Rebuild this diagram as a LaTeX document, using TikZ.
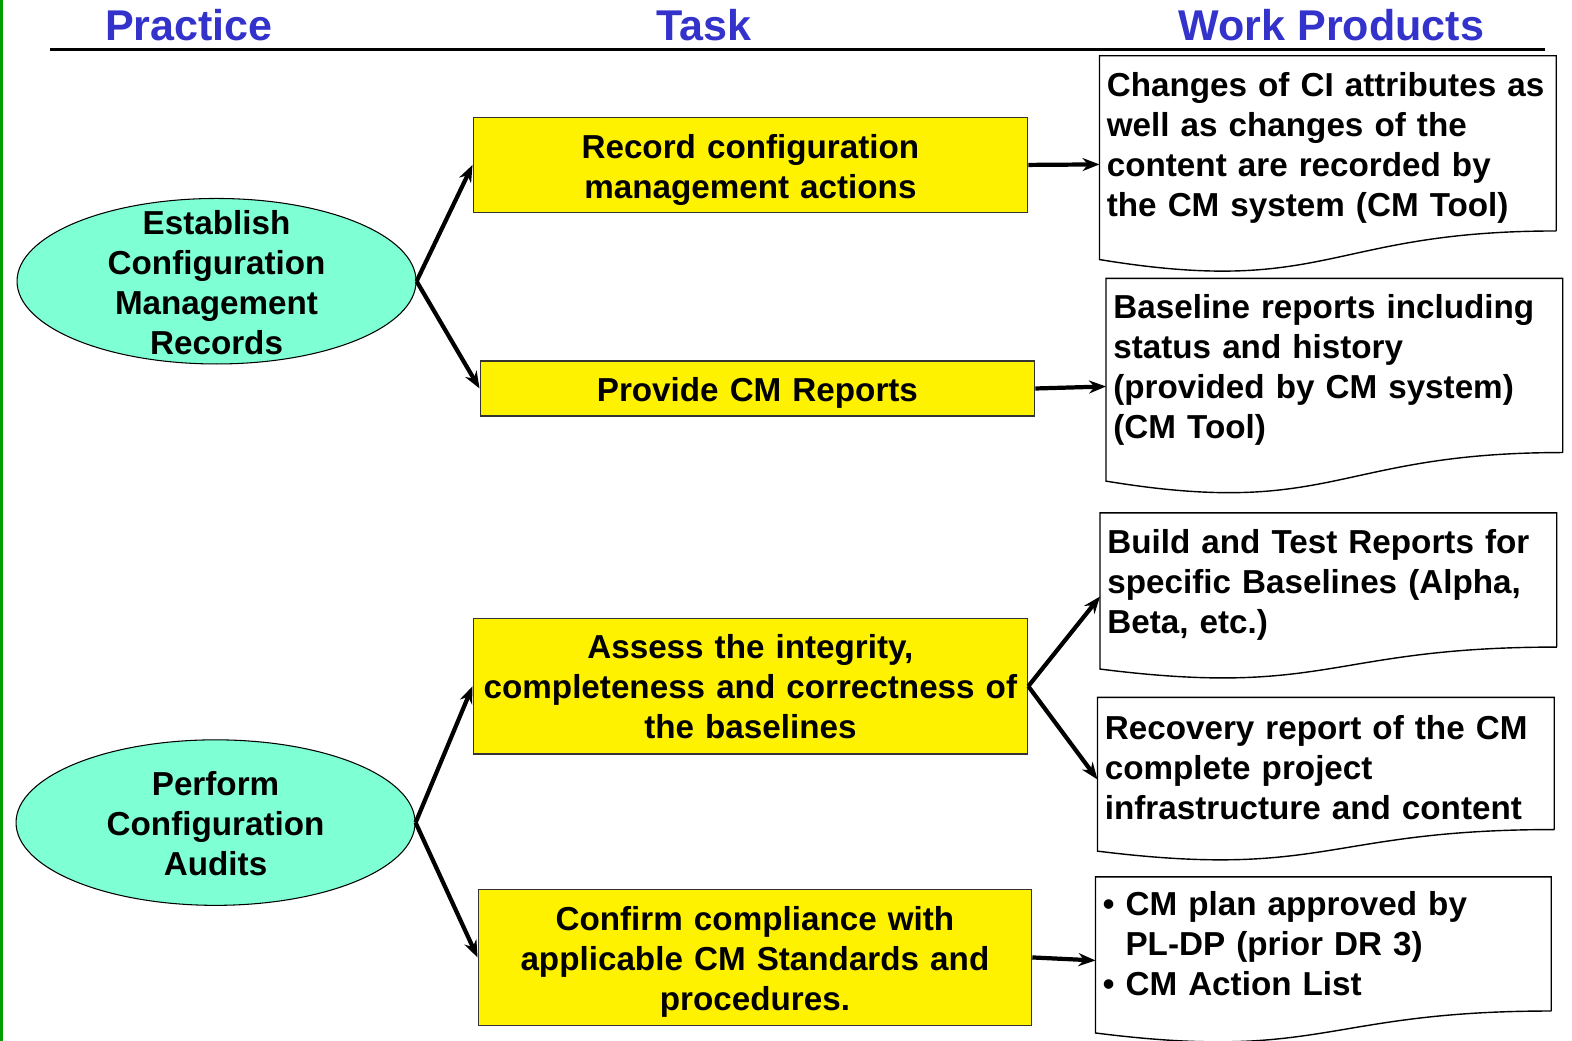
\documentclass[tikz,border=0pt]{standalone}
\usepackage{fontspec}
\setmainfont{Liberation Sans}
\usetikzlibrary{shapes.geometric,arrows.meta,calc,positioning}
\definecolor{headblue}{RGB}{51,51,204}
\definecolor{aqua}{RGB}{127,255,212}
\definecolor{edgegreen}{RGB}{0,160,0}

\begin{document}
\begin{tikzpicture}[x=0.020051cm, y=-0.020051cm]
  \useasboundingbox (0,0) rectangle (1568,1038);
  \tikzstyle{head}=[font=\fontsize{24.5}{29}\selectfont\bfseries, text=headblue, anchor=base, inner sep=0]
  \tikzstyle{body}=[font=\fontsize{18.9}{22.76}\selectfont\bfseries]
  \tikzstyle{raised}=[execute at begin node={\rule{0pt}{1em}}]
  \tikzstyle{practice}=[ellipse, draw, line width=0.6pt, fill=aqua, minimum width=7.98cm, minimum height=3.31cm, inner sep=0]
  \tikzstyle{task}=[rectangle, draw=black!80, line width=0.7pt, fill=yellow, body, align=center, text width=10.9cm,
    minimum width=11.09cm, inner sep=0]
  \tikzstyle{product}=[rectangle, body, align=left, text width=8.84cm, inner xsep=0.14cm, inner ysep=0]
  \tikzstyle{conn}=[-{Stealth[length=0.34cm,width=0.26cm]}, line width=2.4pt]

  % Column heads
  \fill[edgegreen] (0,0) rectangle (3,1038);
  \node[head] (hpractice) at (188.5,40) {Practice};
  \node[head] (htask) at (702.5,40) {Task};
  \node[head] (hwork) at (1328,40) {Work Products};
  \draw[line width=1.8pt] (50,49) -- (1541,49);

  % Practices
  \node[practice] (e1) at (216,280.5) {};
  \node[body, align=center] (e1txt) at ($(e1)+(0,1)$) {Establish\\Configuration\\Management\\Records};
  \node[practice] (e2) at (215,820.5) {};
  \node[body, align=center] (e2txt) at ($(e2)+(0,1)$) {Perform\\Configuration\\Audits};

  % Tasks
  \node[task, raised, minimum height=1.905cm] (t1) at (748.5,164.5) {Record configuration\\management actions};
  \node[task, raised, minimum height=1.10cm] (t2) at (755.5,387.5) {Provide CM Reports};
  \node[task, minimum height=2.71cm] (t3) at (748.5,684.5) {Assess the integrity,\\completeness and correctness of\\the baselines};
  \node[task, raised, minimum height=2.73cm, minimum width=11.07cm] (t4) at (753,955) {Confirm compliance with\\applicable CM Standards and\\procedures.};

  % Work products
  \node[product, raised, minimum height=3.49cm] (d1) at (1324.5,143) {Changes of CI attributes as\\well as changes of the\\content are recorded by\\the CM system (CM Tool)};
  \node[product, raised, minimum height=3.47cm] (d2) at (1331,364.5) {Baseline reports including\\status and history\\(provided by CM system)\\(CM Tool)};
  \node[product, raised, minimum height=2.67cm] (d3) at (1325,578.5) {Build and Test Reports for\\specific Baselines (Alpha,\\Beta, etc.)};
  \node[product, raised, minimum height=2.63cm] (d4) at (1322.5,761.5) {Recovery report of the CM\\complete project\\infrastructure and content};
  \node[product, minimum height=2.67cm, text width=8.82cm] (d5) at (1320,941.5) {\textbullet\ CM plan approved by\\\phantom{\textbullet\ }PL-DP (prior DR 3)\\\textbullet\ CM Action List};

  \foreach \doc/\hh in {d1/216,d2/216,d3/166,d4/163,d5/166}
    \draw[line width=0.8pt] (\doc.south east) -- (\doc.north east) -- (\doc.north west)
      -- ($(\doc.south west)+(0,0.132*\hh)$)
      .. controls ($(\doc.south)+(0,0.3056*\hh)$) and (\doc.south) .. (\doc.south east);

  % Connectors
  \draw[conn] (e1.east) -- (t1.west);
  \draw[conn] (e1.east) -- (t2.west);
  \draw[conn] (t1.east) -- ($(d1.west)+(0,21)$);
  \draw[conn] (t2.east) -- ($(d2.west)+(0,21)$);
  \draw[conn] (e2.east) -- (t3.west);
  \draw[conn] (e2.east) -- (t4.west);
  \draw[conn] (t3.east) -- ($(d3.west)+(0,16.5)$);
  \draw[conn] (t3.east) -- ($(d4.west)+(0,16)$);
  \draw[conn] (t4.east) -- ($(d5.west)+(0,16.5)$);
\end{tikzpicture}
\end{document}
